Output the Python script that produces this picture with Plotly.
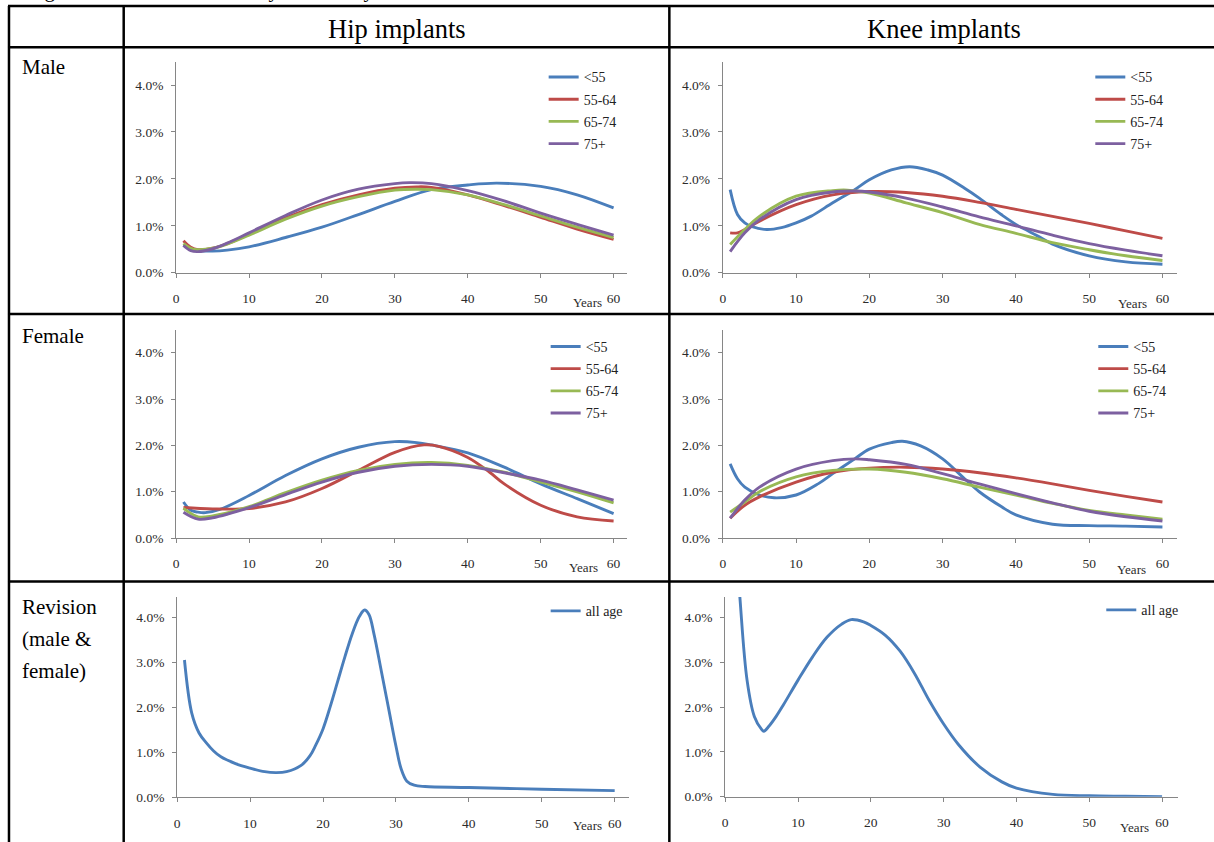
import plotly.graph_objects as go

W, H = 1214, 842


def px(x):
    return x / W


def py(y):
    return 1 - y / H


FONT = "Liberation Serif"
AGE_GROUPS = ["<55", "55-64", "65-74", "75+"]
COLORS = ["#4A7EBB", "#BE4B48", "#98B954", "#7D60A0"]
YEAR_TICKS = [0, 10, 20, 30, 40, 50, 60]
PCT_TICKS = [0, 1, 2, 3, 4]
PCT_LABELS = ["0.0%", "1.0%", "2.0%", "3.0%", "4.0%"]
COL_TITLES = ["Hip implants", "Knee implants"]
ROW_TITLES = [["Male"], ["Female"], ["Revision", "(male &", "female)"]]
CAPTION = "Figure 2: Hazard estimates by sex and by site"

# ---------------- data (hazard rate, %) ----------------
# Hip, male
hm_lt55_x = [1, 2, 3, 5, 7, 10, 15, 20, 25, 30, 35, 40, 44, 50, 55, 60]
hm_lt55_y = [0.59, 0.50, 0.47, 0.46, 0.48, 0.55, 0.75, 0.97, 1.24, 1.52, 1.77, 1.87, 1.91, 1.84, 1.66, 1.38]
hm_5564_x = [1, 2, 3, 5, 7, 10, 15, 20, 25, 30, 33, 35, 40, 45, 50, 55, 60]
hm_5564_y = [0.68, 0.54, 0.49, 0.52, 0.62, 0.82, 1.17, 1.45, 1.66, 1.80, 1.83, 1.82, 1.66, 1.43, 1.18, 0.93, 0.71]
hm_6574_x = [1, 2, 3, 5, 7, 10, 15, 20, 25, 30, 33, 35, 40, 45, 50, 55, 60]
hm_6574_y = [0.62, 0.52, 0.49, 0.52, 0.61, 0.80, 1.14, 1.42, 1.62, 1.76, 1.78, 1.77, 1.66, 1.45, 1.21, 0.97, 0.75]
hm_75p_x = [1, 2, 3, 5, 7, 10, 15, 20, 25, 30, 32, 35, 40, 45, 50, 55, 60]
hm_75p_y = [0.58, 0.47, 0.45, 0.51, 0.63, 0.85, 1.22, 1.55, 1.78, 1.90, 1.92, 1.90, 1.75, 1.53, 1.27, 1.03, 0.80]

# Knee, male
km_lt55_x = [1, 2, 3, 4, 6, 8, 10, 12, 15, 18, 20, 23, 25.5, 28, 30, 33, 35, 38, 40, 43, 45, 50, 55, 60]
km_lt55_y = [1.77, 1.24, 1.06, 0.98, 0.92, 0.96, 1.06, 1.20, 1.49, 1.77, 1.98, 2.19, 2.26, 2.19, 2.08, 1.80, 1.59, 1.24, 1.03, 0.78, 0.61, 0.36, 0.23, 0.18]
km_5564_x = [1, 2, 3, 5, 10, 15, 20, 25, 30, 35, 40, 45, 50, 55, 60]
km_5564_y = [0.85, 0.85, 0.92, 1.10, 1.45, 1.66, 1.73, 1.71, 1.63, 1.50, 1.35, 1.20, 1.05, 0.89, 0.73]
km_6574_x = [1, 3, 5, 10, 15, 17, 20, 25, 30, 35, 40, 45, 50, 55, 60]
km_6574_y = [0.60, 0.92, 1.20, 1.63, 1.75, 1.76, 1.70, 1.49, 1.28, 1.03, 0.84, 0.64, 0.49, 0.36, 0.26]
km_75p_x = [1, 3, 5, 10, 15, 18, 20, 25, 30, 35, 40, 45, 50, 55, 60]
km_75p_y = [0.45, 0.85, 1.13, 1.56, 1.72, 1.74, 1.72, 1.59, 1.40, 1.19, 1.00, 0.80, 0.62, 0.48, 0.36]

# Hip, female
hf_lt55_x = [1, 2, 3, 4, 6, 10, 15, 20, 25, 30, 33, 35, 40, 45, 50, 55, 60]
hf_lt55_y = [0.78, 0.60, 0.56, 0.55, 0.62, 0.92, 1.35, 1.71, 1.96, 2.08, 2.06, 2.01, 1.84, 1.53, 1.17, 0.85, 0.53]
hf_5564_x = [1, 5, 10, 15, 20, 25, 30, 34, 36, 40, 43, 45, 50, 55, 60]
hf_5564_y = [0.66, 0.63, 0.64, 0.78, 1.07, 1.46, 1.85, 2.01, 1.98, 1.74, 1.42, 1.17, 0.71, 0.46, 0.37]
hf_6574_x = [1, 3, 5, 10, 15, 20, 25, 30, 35, 40, 45, 50, 55, 60]
hf_6574_y = [0.64, 0.46, 0.48, 0.68, 0.98, 1.25, 1.46, 1.59, 1.63, 1.57, 1.42, 1.21, 1.00, 0.76]
hf_75p_x = [1, 3, 5, 10, 15, 20, 25, 30, 35, 40, 45, 50, 55, 60]
hf_75p_y = [0.56, 0.41, 0.44, 0.66, 0.94, 1.21, 1.42, 1.55, 1.59, 1.55, 1.41, 1.25, 1.04, 0.82]

# Knee, female
kf_lt55_x = [1, 2, 3, 5, 7, 10, 13, 15, 18, 20, 23, 24.5, 27, 30, 33, 35, 38, 40, 45, 50, 55, 60]
kf_lt55_y = [1.60, 1.28, 1.10, 0.93, 0.87, 0.93, 1.17, 1.39, 1.71, 1.92, 2.06, 2.09, 1.99, 1.71, 1.28, 1.00, 0.68, 0.50, 0.30, 0.27, 0.26, 0.24]
kf_5564_x = [1, 3, 5, 10, 15, 20, 25, 30, 35, 40, 45, 50, 55, 60]
kf_5564_y = [0.43, 0.71, 0.89, 1.21, 1.42, 1.51, 1.53, 1.49, 1.41, 1.30, 1.17, 1.03, 0.90, 0.78]
kf_6574_x = [1, 3, 5, 10, 15, 20, 25, 30, 35, 40, 45, 50, 55, 60]
kf_6574_y = [0.56, 0.78, 1.00, 1.32, 1.46, 1.49, 1.42, 1.28, 1.10, 0.93, 0.75, 0.60, 0.50, 0.41]
kf_75p_x = [1, 3, 5, 10, 15, 18, 20, 25, 30, 35, 40, 45, 50, 55, 60]
kf_75p_y = [0.43, 0.82, 1.10, 1.49, 1.67, 1.71, 1.69, 1.59, 1.39, 1.17, 0.96, 0.76, 0.58, 0.46, 0.37]

# Revision (male & female), all ages
hr_x = [1, 2, 3, 4, 5, 6, 8, 10, 12, 13.5, 15, 17, 18.2, 19, 20, 21, 22, 23, 24, 25, 25.7, 26.3, 27, 28, 29, 30, 30.7, 31.5, 32.5, 34, 40, 50, 60]
hr_y = [3.05, 1.87, 1.43, 1.21, 1.03, 0.90, 0.75, 0.65, 0.57, 0.55, 0.57, 0.71, 0.92, 1.16, 1.52, 2.02, 2.57, 3.12, 3.63, 4.02, 4.16, 4.06, 3.62, 2.80, 1.97, 1.14, 0.64, 0.36, 0.27, 0.24, 0.22, 0.18, 0.15]
kr_x = [1, 2, 3, 4, 5, 5.3, 6, 7, 8, 10, 12, 14, 16, 17.3, 19, 20, 22, 24, 26, 28, 30, 32, 35, 38, 40, 45, 50, 55, 60]
kr_y = [6.8, 4.48, 2.60, 1.79, 1.50, 1.46, 1.57, 1.79, 2.05, 2.60, 3.12, 3.56, 3.85, 3.95, 3.90, 3.82, 3.60, 3.25, 2.75, 2.15, 1.62, 1.17, 0.66, 0.33, 0.19, 0.05, 0.02, 0.01, 0.0]

PANELS = [
    # series, pixel domain (x0, x1, ytop, ybottom), x max, y max, legend (x, first-row y), Years label
    dict(series=[(AGE_GROUPS[0], hm_lt55_x, hm_lt55_y), (AGE_GROUPS[1], hm_5564_x, hm_5564_y),
                 (AGE_GROUPS[2], hm_6574_x, hm_6574_y), (AGE_GROUPS[3], hm_75p_x, hm_75p_y)],
         dom=(173.6, 626.0, 62.7, 275.3), xmax=61.9, ymax=4.49, leg=(542, 76), years=(586, 305)),
    dict(series=[(AGE_GROUPS[0], km_lt55_x, km_lt55_y), (AGE_GROUPS[1], km_5564_x, km_5564_y),
                 (AGE_GROUPS[2], km_6574_x, km_6574_y), (AGE_GROUPS[3], km_75p_x, km_75p_y)],
         dom=(721.6, 1177.0, 62.7, 275.3), xmax=62.0, ymax=4.49, leg=(1090, 76), years=(1132, 306)),
    dict(series=[(AGE_GROUPS[0], hf_lt55_x, hf_lt55_y), (AGE_GROUPS[1], hf_5564_x, hf_5564_y),
                 (AGE_GROUPS[2], hf_6574_x, hf_6574_y), (AGE_GROUPS[3], hf_75p_x, hf_75p_y)],
         dom=(173.6, 626.0, 333.3, 543.3), xmax=61.9, ymax=4.485, leg=(544, 348), years=(582, 573)),
    dict(series=[(AGE_GROUPS[0], kf_lt55_x, kf_lt55_y), (AGE_GROUPS[1], kf_5564_x, kf_5564_y),
                 (AGE_GROUPS[2], kf_6574_x, kf_6574_y), (AGE_GROUPS[3], kf_75p_x, kf_75p_y)],
         dom=(721.6, 1177.0, 333.3, 543.3), xmax=62.0, ymax=4.485, leg=(1093, 348), years=(1131, 575)),
    dict(series=[("all age", hr_x, hr_y)],
         dom=(174.6, 627.1, 602.7, 805.0), xmax=61.9, ymax=4.45, leg=(544, 615), years=(586, 833)),
    dict(series=[("all age", kr_x, kr_y)],
         dom=(724.0, 1178.0, 602.7, 804.3), xmax=62.2, ymax=4.455, leg=(1101, 614), years=(1134, 835)),
]

fig = go.Figure()
layout = {}
annotations = []

for i, p in enumerate(PANELS):
    n = i + 1
    xa = "xaxis" if n == 1 else f"xaxis{n}"
    ya = "yaxis" if n == 1 else f"yaxis{n}"
    xr = "x" if n == 1 else f"x{n}"
    yr = "y" if n == 1 else f"y{n}"
    lg = "legend" if n == 1 else f"legend{n}"
    x0, x1, yt, yb = p["dom"]
    for k, (name, xs, ys) in enumerate(p["series"]):
        fig.add_trace(go.Scatter(
            x=xs, y=ys, name=name, mode="lines",
            line=dict(color=COLORS[k], width=2.9, shape="spline", smoothing=1.0),
            xaxis=xr, yaxis=yr, legend=lg, legendgroup=f"{lg}-{k}",
            showlegend=True, hoverinfo="skip",
        ))
    axis_common = dict(
        showline=True, linecolor="#868686", linewidth=1,
        ticks="outside", ticklen=4, tickcolor="#868686", tickwidth=1,
        showgrid=False, zeroline=False,
        tickfont=dict(family=FONT, size=13.5, color="#2b2b2b"),
    )
    layout[xa] = dict(axis_common, domain=[px(x0), px(x1)], range=[0, p["xmax"]],
                      tickvals=YEAR_TICKS, anchor=yr, ticklabelstandoff=9)
    layout[ya] = dict(axis_common, domain=[py(yb), py(yt)], range=[0, p["ymax"]],
                      tickvals=PCT_TICKS, ticktext=PCT_LABELS, anchor=xr, ticklabelstandoff=5)
    lx, ly = p["leg"]
    layout[lg] = dict(x=px(lx), y=py(ly - 14), xanchor="left", yanchor="top",
                      bgcolor="rgba(0,0,0,0)", borderwidth=0,
                      font=dict(family=FONT, size=14, color="#222222"),
                      traceorder="grouped", tracegroupgap=1)
    yx, yy = p["years"]
    annotations.append(dict(x=px(yx), y=py(yy), xref="paper", yref="paper", text="Years",
                            showarrow=False, xanchor="center", yanchor="middle",
                            font=dict(family=FONT, size=13, color="#2b2b2b")))


def baseline_annot(text, x, baseline, size, xanchor="left"):
    # place text so that its baseline sits at the given pixel row
    bottom = baseline + 0.216 * size + 1
    return dict(x=px(x), y=py(bottom), xref="paper", yref="paper", text=text,
                showarrow=False, xanchor=xanchor, yanchor="bottom",
                font=dict(family=FONT, size=size, color="#000000"))


annotations.append(baseline_annot(CAPTION, 22, -1, 21))
annotations.append(baseline_annot(COL_TITLES[0], 394.5, 40, 26.5, "center"))
annotations.append(baseline_annot(COL_TITLES[1], 943, 40, 26.5, "center"))
row_baselines = [[76], [348], [621, 654, 686]]
for lines, bls in zip(ROW_TITLES, row_baselines):
    for t, b in zip(lines, bls):
        annotations.append(baseline_annot(t, 17, b, 21))

# table rules
shapes = []
LW = 2.5
for xv in [6, 121, 668]:
    shapes.append(dict(type="line", xref="paper", yref="paper", x0=px(xv), x1=px(xv),
                       y0=py(6), y1=py(850), line=dict(color="black", width=LW)))
for yv in [6, 47.7, 317, 587]:
    shapes.append(dict(type="line", xref="paper", yref="paper", x0=px(5), x1=px(1220),
                       y0=py(yv), y1=py(yv), line=dict(color="black", width=LW)))

fig.update_layout(
    width=W, height=H, autosize=False,
    margin=dict(l=0, r=0, t=0, b=0),
    paper_bgcolor="white", plot_bgcolor="white",
    annotations=annotations, shapes=shapes,
    **layout,
)

fig.write_html(
    "out.html",
    config={"displayModeBar": False},
    post_script="document.body.style.margin='0';document.body.style.overflow='hidden';",
)
